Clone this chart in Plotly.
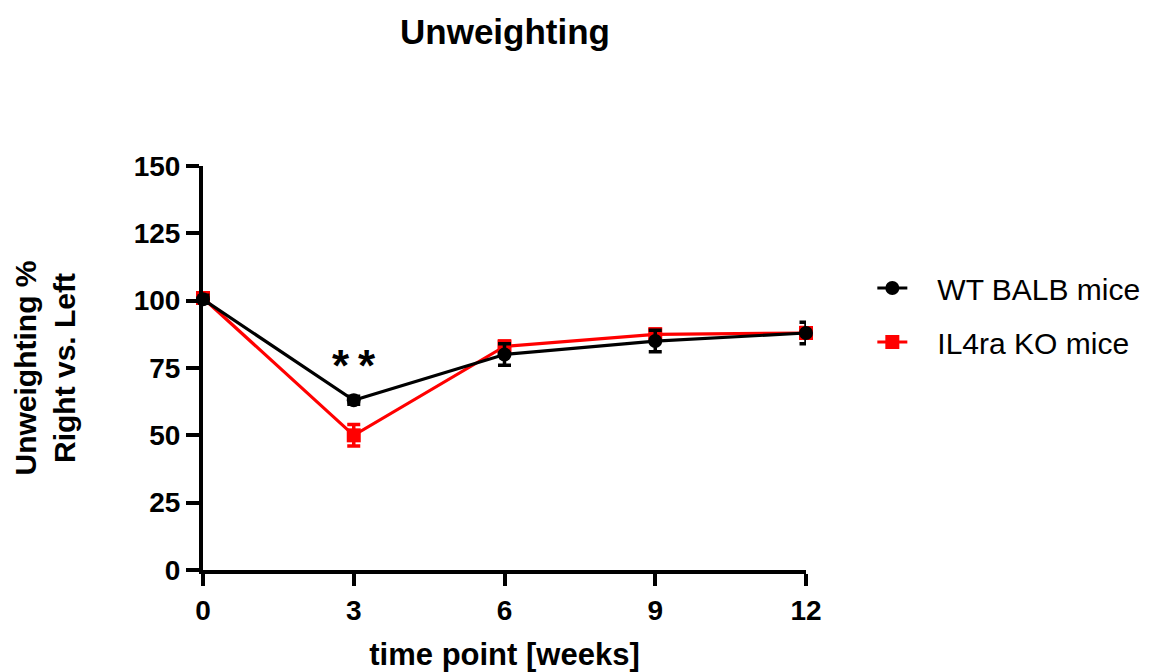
import plotly.graph_objects as go

# Time points (weeks) and group means / SEM
weeks = [0, 3, 6, 9, 12]
wt_mean = [100.5, 63, 80, 85, 88]
wt_sem = [1.5, 1.5, 4.0, 4.0, 4.0]
ko_mean = [101, 50, 83, 87.5, 88]
ko_sem = [1.5, 4.0, 2.0, 2.0, 2.0]

series_names = ["WT BALB mice", "IL4ra KO mice"]
y_ticks = [0, 25, 50, 75, 100, 125, 150]
x_ticks = [0, 3, 6, 9, 12]

FONT = "Liberation Sans, Arial, sans-serif"
PAD = "\u00a0\u00a0\u00a0"  # small gap between legend symbol and label

fig = go.Figure()

fig.add_trace(go.Scatter(
    x=weeks, y=ko_mean, name=PAD + series_names[1],
    mode="lines+markers", legendgroup="ko", legendrank=2,
    line=dict(color="#ff0000", width=3.2),
    marker=dict(symbol="square", size=14, color="#ff0000"),
    error_y=dict(type="data", array=ko_sem, color="#ff0000", thickness=3.5, width=6.5),
    cliponaxis=False,
))
fig.add_trace(go.Scatter(
    x=weeks, y=wt_mean, name=PAD + series_names[0],
    mode="lines+markers", legendgroup="wt", legendrank=1,
    line=dict(color="#000000", width=3.2),
    marker=dict(symbol="circle", size=14, color="#000000"),
    error_y=dict(type="data", array=wt_sem, color="#000000", thickness=3.5, width=6.5),
    cliponaxis=False,
))

# significance marker at week 3
fig.add_annotation(x=3, y=66, yanchor="bottom", text="<b>*\u2009*</b>", showarrow=False,
                   font=dict(family=FONT, size=44, color="black"))

tick_font = dict(family=FONT, size=28, color="black", weight="bold")

fig.update_layout(
    width=1165, height=672,
    margin=dict(l=203, r=359, t=166, b=102),
    paper_bgcolor="white", plot_bgcolor="white",
    title=dict(text="<b>Unweighting</b>", x=505 / 1165, xanchor="center",
               y=1 - 32 / 672, yanchor="middle",
               font=dict(family=FONT, size=35, color="black")),
    xaxis=dict(range=[0, 12], tickvals=x_ticks, ticks="outside", ticklen=12,
               tickwidth=4, tickcolor="black", showline=True, linewidth=4,
               linecolor="black", showgrid=False, zeroline=False, automargin=False,
               tickfont=tick_font,
               title=dict(text="<b>time point [weeks]</b>", standoff=20,
                          font=dict(family=FONT, size=31, color="black"))),
    yaxis=dict(range=[0, 150], tickvals=y_ticks, ticks="outside", ticklen=13,
               tickwidth=4, tickcolor="black", showline=True, linewidth=4,
               linecolor="black", showgrid=False, zeroline=False, automargin=False,
               tickfont=tick_font,
               title=dict(text="<b>Unweighting %<br>Right vs. Left</b>", standoff=50,
                          font=dict(family=FONT, size=30, color="black"))),
    legend=dict(x=1.11, xanchor="left", y=(672 - 102 - 262) / 404, yanchor="top",
                traceorder="grouped", tracegroupgap=12,
                font=dict(family=FONT, size=30, color="black"),
                bgcolor="rgba(0,0,0,0)"),
    showlegend=True,
)

fig.write_html("out.html")
